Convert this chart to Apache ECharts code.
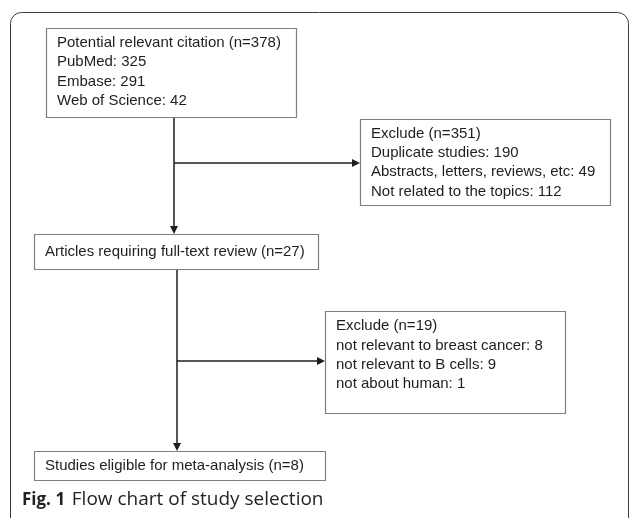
<!DOCTYPE html>
<html>
<head>
<meta charset="utf-8">
<script src="https://cdn.jsdelivr.net/npm/echarts@6/dist/echarts.min.js"></script>
<style>
  html, body { margin: 0; padding: 0; background: #fff; }
  #chart { width: 630px; height: 518px; }
</style>
</head>
<body>
<div id="chart"></div>
<script>
// flow chart values
const totalCount = 378;
const sourceNames = ['PubMed', 'Embase', 'Web of Science'];
const sourceCounts = [325, 291, 42];
const excludeOneCount = 351;
const excludeOneReasons = ['Duplicate studies', 'Abstracts, letters, reviews, etc', 'Not related to the topics'];
const excludeOneCounts = [190, 49, 112];
const fullTextCount = 27;
const excludeTwoCount = 19;
const excludeTwoReasons = ['not relevant to breast cancer', 'not relevant to B cells', 'not about human'];
const excludeTwoCounts = [8, 9, 1];
const eligibleCount = 8;
const captionLabel = 'Fig. 1';
const captionText = 'Flow chart of study selection';

const chart = echarts.init(document.getElementById('chart'));

const FONT = '"Liberation Sans", Arial, sans-serif';
const BOX_STROKE = '#808080';
const LINE_COLOR = '#1e1e1e';

function box(x, y, w, h, lines, textTop, lh) {
    return [
        {
            type: 'rect',
            shape: { x: x + 0.5, y: y + 0.5, width: w, height: h },
            style: { fill: '#fff', stroke: BOX_STROKE, lineWidth: 1.2 }
        },
        {
            type: 'text',
            x: x + 11,
            y: textTop,
            style: {
                text: lines.join('\n'),
                font: '15px ' + FONT,
                fill: '#1e1e1e',
                lineHeight: lh || 19.5,
                verticalAlign: 'top'
            }
        }
    ];
}

function arrow(x1, y1, x2, y2) {
    // only horizontal or vertical arrows here
    const horiz = y1 === y2;
    const head = horiz
        ? [[x2, y2], [x2 - 8, y2 - 4], [x2 - 8, y2 + 4]]
        : [[x2, y2], [x2 - 4, y2 - 8], [x2 + 4, y2 - 8]];
    return [
        {
            type: 'line',
            shape: { x1: x1, y1: y1, x2: horiz ? x2 - 6 : x2, y2: horiz ? y2 : y2 - 6 },
            style: { stroke: LINE_COLOR, lineWidth: 1.5 }
        },
        {
            type: 'polygon',
            shape: { points: head },
            style: { fill: LINE_COLOR }
        }
    ];
}

const firstBox = ['Potential relevant citation (n=' + totalCount + ')']
    .concat(sourceNames.map((n, i) => n + ': ' + sourceCounts[i]));
const secondBox = ['Exclude (n=' + excludeOneCount + ')']
    .concat(excludeOneReasons.map((n, i) => n + ': ' + excludeOneCounts[i]));
const thirdBox = ['Articles requiring full-text review (n=' + fullTextCount + ')'];
const fourthBox = ['Exclude (n=' + excludeTwoCount + ')']
    .concat(excludeTwoReasons.map((n, i) => n + ': ' + excludeTwoCounts[i]));
const fifthBox = ['Studies eligible for meta-analysis (n=' + eligibleCount + ')'];

let elements = [
    {
        type: 'rect',
        shape: { x: 10.5, y: 12.5, width: 618, height: 530, r: 11 },
        style: { fill: 'none', stroke: '#3c3c3c', lineWidth: 1 }
    }
];

elements = elements
    .concat(arrow(174, 117, 174, 234))
    .concat(arrow(174, 163, 360, 163))
    .concat(arrow(177, 270, 177, 451))
    .concat(arrow(177, 361, 325, 361))
    .concat(box(46, 28, 250, 89, firstBox, 33))
    .concat(box(360, 119, 250, 86, secondBox, 124, 19.3))
    .concat(box(34, 234, 284, 35, thirdBox, 242))
    .concat(box(325, 311, 240, 102, fourthBox, 316.5, 19.3))
    .concat(box(34, 451, 291, 29, fifthBox, 456));

elements.push({
    type: 'text',
    x: 22,
    y: 500,
    style: {
        text: '{b|' + captionLabel + '}  {n|' + captionText + '}',
        verticalAlign: 'middle',
        rich: {
            b: { font: 'bold 17px "Open Sans", sans-serif', fill: '#231f20' },
            n: { font: '19px "Open Sans", sans-serif', fill: '#231f20' }
        }
    }
});

chart.setOption({
    backgroundColor: '#fff',
    graphic: { elements: elements }
});
</script>
</body>
</html>
